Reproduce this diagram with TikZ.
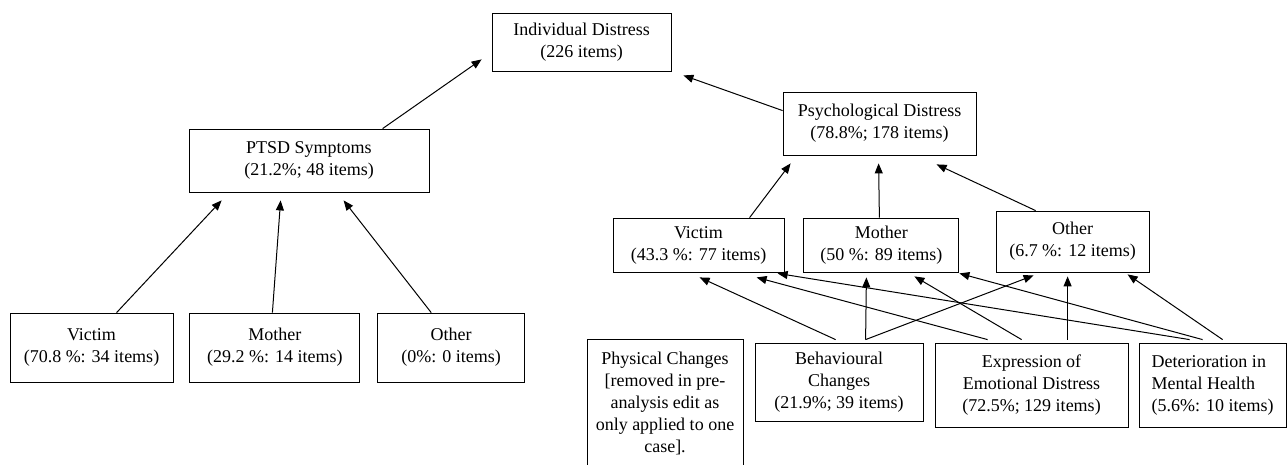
\documentclass[tikz,border=0pt]{standalone}
\usepackage{fontspec}
\setmainfont{Liberation Serif}
\usetikzlibrary{positioning,arrows.meta}

\begin{document}
\begin{tikzpicture}[x=1pt,y=-1pt,
    catbox/.style={rectangle, draw=black, line width=0.8pt, inner sep=0pt, align=center,
      font=\fontsize{18pt}{22pt}\selectfont},
    link/.style={line width=1pt, -{Triangle[length=10pt,width=8pt]}},
    plain/.style={line width=1pt}]

        \useasboundingbox (0,0) rectangle (1288,465);

        \node[catbox, minimum width=179pt, minimum height=58pt] (indiv) at (581.5,42) {Individual Distress\\(226 items)};
        \node[catbox, minimum width=240pt, minimum height=63pt] (ptsd) at (309,160.5) {PTSD Symptoms\\(21.2\%; 48 items)};
        \node[catbox, minimum width=193pt, minimum height=63pt] (psych) at (879.5,123.5) {Psychological Distress\\(78.8\%; 178 items)};

        \node[catbox, minimum width=163pt, minimum height=69pt] (vict1) at (91.5,347.5) {Victim\\(70.8 \%: 34 items)};
        \node[catbox, minimum width=170pt, minimum height=69pt] (moth1) [right=16pt of vict1] {Mother\\(29.2 \%: 14 items)};
        \node[catbox, minimum width=147pt, minimum height=69pt] (oth1) [right=17pt of moth1] {Other\\(0\%: 0 items)};

        \node[catbox, minimum width=171pt, minimum height=54pt] (vict2) at (698.5,245) {Victim\\(43.3 \%: 77 items)};
        \node[catbox, minimum width=155pt, minimum height=54pt] (moth2) [right=19pt of vict2] {Mother\\(50 \%: 89 items)};
        \node[catbox, minimum width=153pt, minimum height=61pt] (oth2) at (1072.5,241.5) {Other\\(6.7 \%: 12 items)};

        \node[catbox, minimum width=156pt, anchor=north, text height=113pt, text depth=40pt] (phys) at (665,339) {Physical Changes\\{}[removed in pre-\\analysis edit as\\only applied to one\\case].};
        \node[catbox, minimum width=168pt, minimum height=78pt] (behav) at (839,382) {Behavioural\\Changes\\(21.9\%; 39 items)};
        \node[catbox, minimum width=193pt, minimum height=84pt] (expr) at (1031.5,385) {Expression of\\Emotional Distress\\(72.5\%; 129 items)};
        \node[catbox, minimum width=147pt, minimum height=84pt, align=left] (deter) at (1212.5,385) {Deterioration in\\Mental Health\\(5.6\%: 10 items)};

        \draw[link] ([xshift=194pt]ptsd.north west) -- ([xshift=-10pt,yshift=12pt]indiv.south west);
        \draw[link] ([yshift=-19pt]psych.north west) -- ([xshift=12pt,yshift=-4pt]indiv.south east);

        \draw[link] ([xshift=107pt]vict1.north west) -- ([xshift=33pt,yshift=-8pt]ptsd.south west);
        \draw[link] ([xshift=83pt]moth1.north west) -- ([xshift=92pt,yshift=-8pt]ptsd.south west);
        \draw[link] ([xshift=54pt]oth1.north west) -- ([xshift=155pt,yshift=-8pt]ptsd.south west);

        \draw[link] ([xshift=137pt]vict2.north west) -- ([xshift=8pt,yshift=-8pt]psych.south west);
        \draw[link] ([xshift=76pt]moth2.north west) -- ([xshift=96pt,yshift=-8pt]psych.south west);
        \draw[link] ([xshift=40pt]oth2.north west) -- ([xshift=154pt,yshift=-9pt]psych.south west);

        \draw[link] ([xshift=81pt,yshift=3pt]behav.north west) -- ([xshift=87pt,yshift=-5pt]vict2.south west);
        \draw[link] ([xshift=111pt,yshift=3pt]behav.north west) -- ([xshift=63pt,yshift=-5pt]moth2.south west);
        \draw[link] ([xshift=111pt,yshift=3pt]behav.north west) -- ([xshift=38pt,yshift=-3pt]oth2.south west);

        \draw[link] ([xshift=53pt,yshift=3pt]expr.north west) -- ([xshift=144pt,yshift=-5pt]vict2.south west);
        \draw[link] ([xshift=87pt,yshift=3pt]expr.north west) -- ([xshift=111pt,yshift=-4pt]moth2.south west);
        \draw[link] ([xshift=133pt,yshift=3pt]expr.north west) -- ([xshift=72pt,yshift=-4pt]oth2.south west);

        \draw[link] ([xshift=51pt,yshift=3pt]deter.north west) -- ([xshift=165pt,yshift=-1pt]vict2.south west);
        \draw[link] ([xshift=64pt,yshift=3pt]deter.north west) -- ([xshift=156pt,yshift=-1pt]moth2.south west);
        \draw[link] ([xshift=84pt,yshift=3pt]deter.north west) -- ([xshift=132pt,yshift=-2pt]oth2.south west);

\end{tikzpicture}
\end{document}
